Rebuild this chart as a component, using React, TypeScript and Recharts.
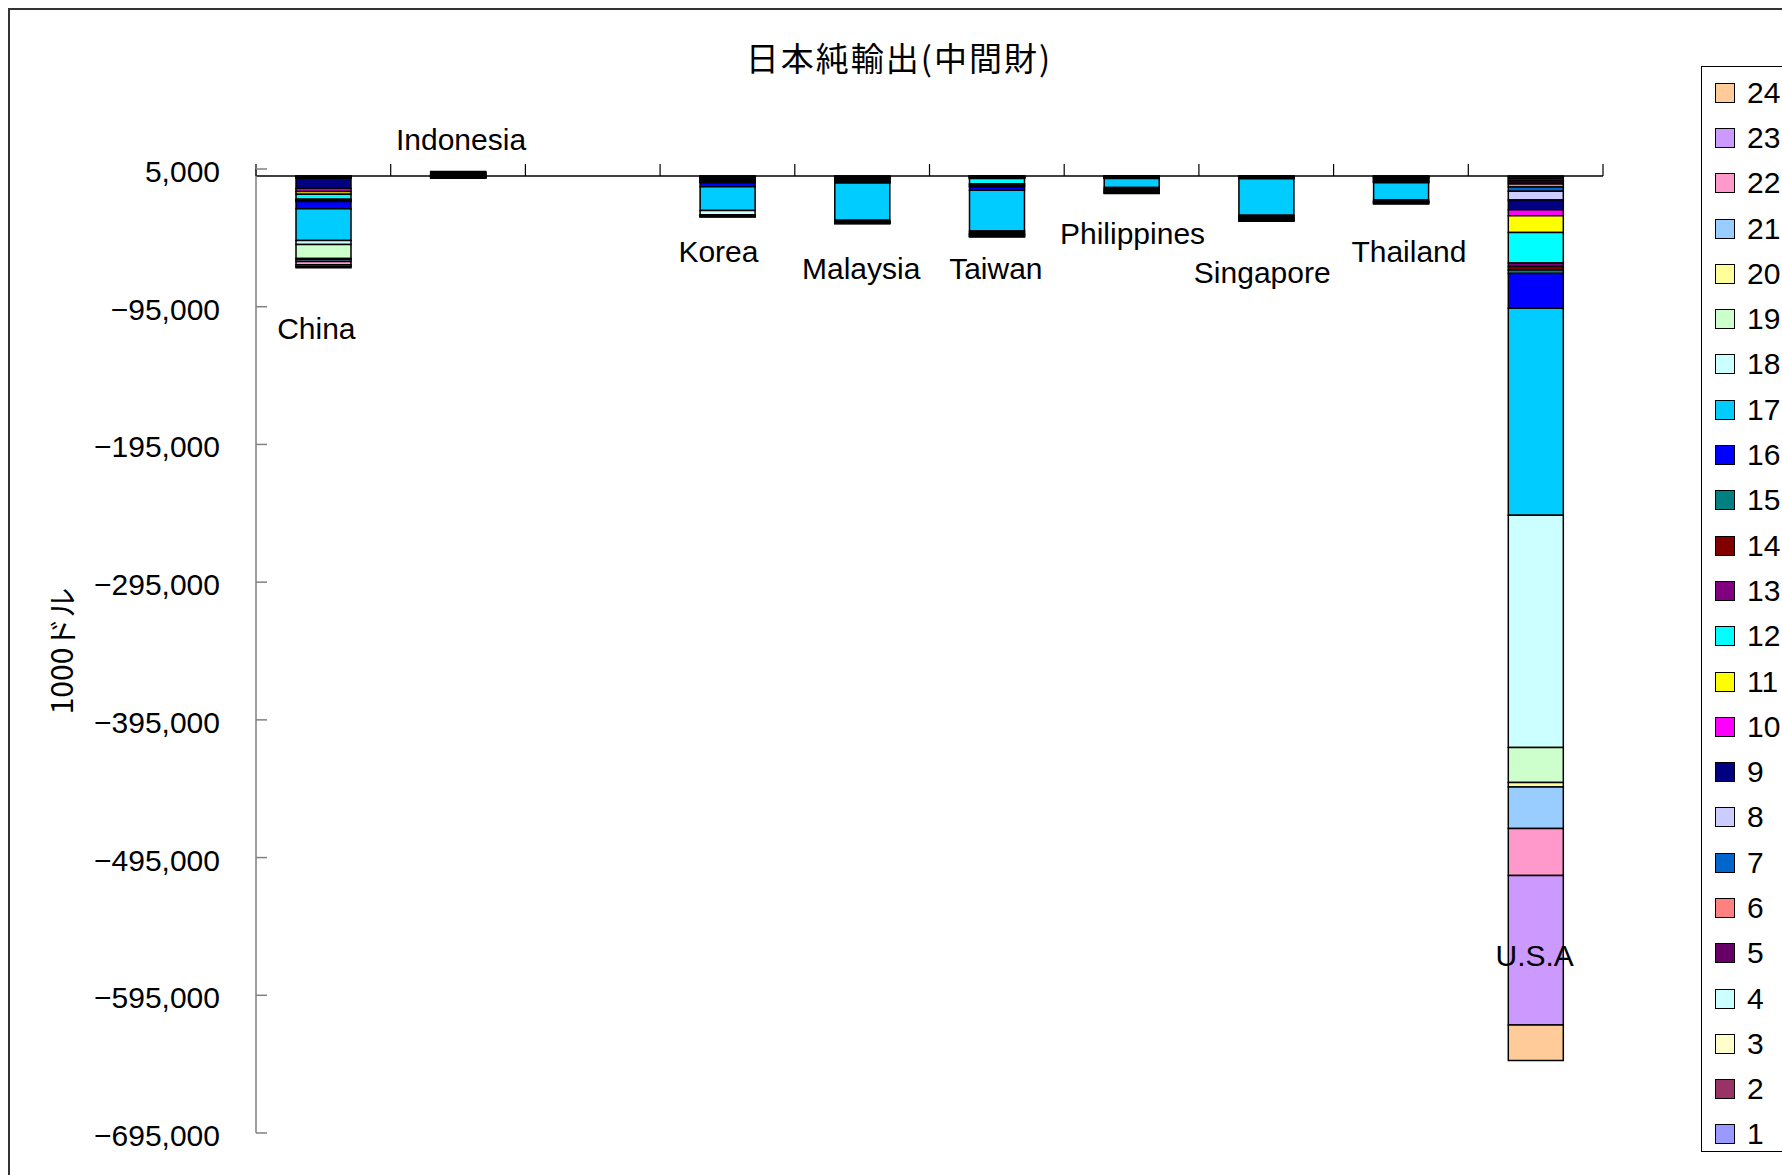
import { BarChart, Bar, XAxis, YAxis, ReferenceLine, ReferenceDot } from "recharts";

// 日本純輸出(中間財): net exports of intermediate goods by partner, 24 sectors (unit: 1000 USD)
const countries = ["China", "Indonesia", "Japan", "Korea", "Malaysia", "Taiwan", "Philippines", "Singapore", "Thailand", "U.S.A"];
const sectors = ["1", "2", "3", "4", "5", "6", "7", "8", "9", "10", "11", "12", "13", "14", "15", "16", "17", "18", "19", "20", "21", "22", "23", "24"];

// values per partner, sector 1 .. 24
const china = [-200, -300, -100, -200, -100, -300, -300, -250, -7500, -2000, -2000, -3800, -500, -500, -500, -5300, -23000, -2900, -10200, -800, -1400, -2400, -1200, -1000];
const indonesia = [200, 200, -200, 300, -200, 200, 200, 300, 400, -200, -200, -200, 0, 0, 0, 400, 600, -300, 300, 0, -200, 0, -200, 0];
const japan = [0, 0, 0, 0, 0, 0, 0, 0, 0, 0, 0, 0, 0, 0, 0, 0, 0, 0, 0, 0, 0, 0, 0, 0];
const korea = [-200, -200, -200, -300, -200, -300, -400, -300, -700, -300, -500, -600, -300, -200, -200, -3000, -17200, -3200, -300, -100, -300, -300, -300, -200];
const malaysia = [-200, -200, -200, -300, -200, -300, -500, -300, -800, -300, -400, -500, -300, -200, -200, -300, -27100, -800, -400, -100, -300, -300, -300, -200];
const taiwan = [-100, -100, -100, -200, -100, -200, -200, -200, -300, -200, -200, -3800, -800, -800, -800, -2400, -29500, -1200, -800, -300, -700, -600, -500, -300];
const philippines = [-100, -100, -100, -100, -100, -100, -100, -100, -200, -100, -100, -200, -100, -100, -100, -200, -6500, -1200, -900, -300, -700, -500, -500, -300];
const singapore = [-100, -100, -100, -100, -100, -100, -100, -100, -300, -100, -100, -200, -100, -100, -100, -200, -26600, -1000, -700, -200, -900, -600, -600, -400];
const thailand = [-200, -200, -200, -300, -200, -300, -400, -300, -500, -300, -500, -500, -300, -200, -200, -300, -12600, -700, -500, -100, -500, -400, -400, -300];
const usa = [-600, -1300, -1200, -1400, -1400, -2200, -3000, -6500, -6900, -4400, -12300, -22100, -2500, -2500, -2500, -25400, -150300, -168500, -25400, -3400, -30100, -34100, -108600, -25800];

const valuesByCountry = [china, indonesia, japan, korea, malaysia, taiwan, philippines, singapore, thailand, usa];

// where each partner name is written (value units), null = no label
const nameLabelAt = [-110700, 27000, null, -54700, -67000, -67000, -41400, -69500, -54700, -565400];

const yTicks = [5000, -95000, -195000, -295000, -395000, -495000, -595000, -695000];

const sectorColors = [
  "#9999FF", "#993366", "#FFFFCC", "#CCFFFF", "#660066", "#FF8080", "#0066CC", "#CCCCFF",
  "#000080", "#FF00FF", "#FFFF00", "#00FFFF", "#800080", "#800000", "#008080", "#0000FF",
  "#00CCFF", "#CCFFFF", "#CCFFCC", "#FFFF99", "#99CCFF", "#FF99CC", "#CC99FF", "#FFCC99",
];

const rows = countries.map((name, i) => {
  const row: Record<string, string | number> = { name };
  sectors.forEach((s, j) => {
    row["s" + s] = valuesByCountry[i][j];
  });
  return row;
});

const latin = "'Liberation Sans', Arial, sans-serif";
const jp = "'Noto Sans CJK JP', 'Noto Sans', sans-serif";

const CHART_W = 1796;
const CHART_H = 1196;
const margin = { top: 158, right: 203, bottom: 73, left: 0 };
const X_AXIS_H = 1;
const Y_AXIS_W = 246;
const plotW = CHART_W - margin.left - margin.right - Y_AXIS_W;
const plotH = CHART_H - margin.top - X_AXIS_H - margin.bottom;
const yMin = yTicks[yTicks.length - 1];
const yMax = yTicks[0];
const zeroOffset = (plotH * yMax) / (yMax - yMin);
const labelDx = [-7, 3, 0, -9, -1, -1, 1, -4, 8, -1];

const fmt = (v: number) => (v < 0 ? "\u2212" : "") + Math.abs(v).toLocaleString("en-US");

function YTick(props: any) {
  const { x, y, payload } = props;
  return (
    <g>
      <line x1={x} x2={x + 11} y1={y} y2={y} stroke="#808080" strokeWidth={1.5} />
      <text x={x - 36} y={y} dy={13} textAnchor="end" fontSize={30} fontFamily={latin} fill="#000">
        {fmt(payload.value)}
      </text>
    </g>
  );
}

function BoundaryTick(props: any) {
  const { x, y, index, payload } = props;
  const half = payload && payload.offset ? payload.offset : plotW / countries.length / 2;
  const last = index === countries.length - 1;
  return (
    <g>
      <line x1={x - half} x2={x - half} y1={y - 5} y2={y + zeroOffset} stroke="#000" strokeWidth={1.2} />
      {last && <line x1={x + half} x2={x + half} y1={y - 5} y2={y + zeroOffset} stroke="#000" strokeWidth={1.2} />}
    </g>
  );
}

function YTitle(props: any) {
  const vb = props.viewBox || { x: 0, y: 0, width: 0, height: 0 };
  const cx = vb.x + 50;
  const cy = vb.y + vb.height / 2;
  return (
    <text x={cx} y={cy} transform={`rotate(-90, ${cx}, ${cy})`} textAnchor="middle" dominantBaseline="central" fontSize={30} fontFamily={jp} fill="#000">
      1000ドル
    </text>
  );
}

function NameLabel(props: any) {
  const vb = props.viewBox || { x: 0, y: 0, width: 0, height: 0 };
  const cx = vb.x + (vb.width || 0) / 2 + props.dx;
  const cy = vb.y + (vb.height || 0) / 2;
  return (
    <text x={cx} y={cy} dy={11} textAnchor="middle" fontSize={30} fontFamily={latin} fill="#000">
      {props.text}
    </text>
  );
}

export default function App() {
  const legendItems = sectors.map((s, j) => ({ s, color: sectorColors[j] })).reverse();
  return (
    <div style={{ position: "fixed", left: 8, top: 8, right: 0, bottom: 0, overflow: "hidden" }}>
      <div style={{ position: "relative", width: 1800, height: 1200, border: "2px solid #333", background: "#fff" }}>
        <div
          style={{
            position: "absolute",
            left: 889 - 300,
            width: 600,
            top: 27,
            height: 40,
            lineHeight: "40px",
            textAlign: "center",
            fontFamily: jp,
            fontSize: 33,
            letterSpacing: 2,
            color: "#000",
          }}
        >
          日本純輸出(中間財)
        </div>
        <BarChart width={CHART_W} height={CHART_H} data={rows} stackOffset="sign" margin={margin} barSize={55}>
          <XAxis
            dataKey="name"
            orientation="top"
            height={X_AXIS_H}
            axisLine={false}
            tickLine={false}
            tickSize={0}
            tickMargin={0}
            interval={0}
            tick={<BoundaryTick />}
          />
          <YAxis
            type="number"
            domain={[yMin, yMax]}
            ticks={yTicks}
            width={Y_AXIS_W}
            allowDataOverflow
            axisLine={{ stroke: "#808080", strokeWidth: 1.5 }}
            tickLine={false}
            tickSize={0}
            tickMargin={0}
            tick={<YTick />}
            label={<YTitle />}
          />
          {sectors.map((s, j) => (
            <Bar
              key={s}
              dataKey={"s" + s}
              name={s}
              stackId="a"
              fill={sectorColors[j]}
              stroke="#000"
              strokeWidth={1.5}
              isAnimationActive={false}
            />
          ))}
          <ReferenceLine y={0} stroke="#000" strokeWidth={1.5} />
          {countries.map((name, i) =>
            nameLabelAt[i] === null ? null : (
              <ReferenceDot
                key={name}
                x={name}
                y={nameLabelAt[i] as number}
                r={1}
                fill="none"
                stroke="none"
                ifOverflow="visible"
                label={<NameLabel text={name} dx={labelDx[i]} />}
              />
            )
          )}
        </BarChart>
        <div
          style={{
            position: "absolute",
            left: 1691,
            top: 56,
            width: 140,
            height: 1086,
            border: "1.5px solid #000",
            boxSizing: "border-box",
            paddingTop: 3,
            background: "#fff",
          }}
        >
          {legendItems.map((it) => (
            <div key={it.s} style={{ height: 45.3, display: "flex", alignItems: "center" }}>
              <div
                style={{
                  marginLeft: 13,
                  width: 20,
                  height: 20,
                  boxSizing: "border-box",
                  border: "1.5px solid #000",
                  background: it.color,
                }}
              />
              <span style={{ marginLeft: 12, fontFamily: latin, fontSize: 30, lineHeight: "30px", color: "#000" }}>{it.s}</span>
            </div>
          ))}
        </div>
      </div>
    </div>
  );
}
